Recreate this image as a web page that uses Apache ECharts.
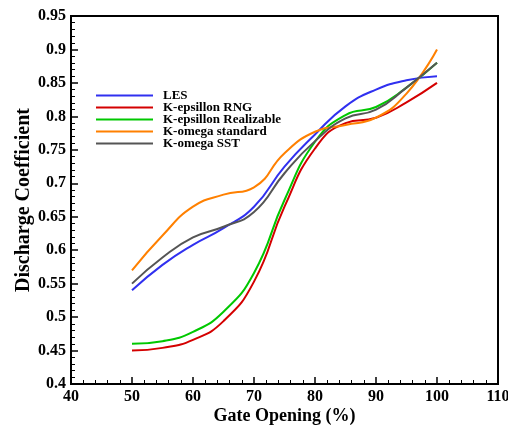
<!DOCTYPE html>
<html>
<head>
<meta charset="utf-8">
<script src="https://cdn.jsdelivr.net/npm/echarts@6/dist/echarts.min.js"></script>
<style>
  html, body { margin: 0; padding: 0; background: #fff; }
  #chart { width: 508px; height: 426px; }
</style>
</head>
<body>
<div id="chart"></div>
<script>
// Gate opening (%) sample positions
const gateOpening = [50, 55, 60, 65, 70, 75, 80, 85, 90, 95, 100];

// Discharge coefficient per model
const les          = [0.540, 0.578, 0.608, 0.633, 0.665, 0.725, 0.773, 0.815, 0.840, 0.854, 0.860];
const kEpsRng      = [0.450, 0.454, 0.466, 0.494, 0.553, 0.665, 0.752, 0.790, 0.798, 0.821, 0.850];
const kEpsReal     = [0.460, 0.464, 0.478, 0.508, 0.566, 0.675, 0.762, 0.802, 0.814, 0.843, 0.880];
const kOmegaStd    = [0.570, 0.622, 0.665, 0.683, 0.694, 0.745, 0.777, 0.787, 0.798, 0.834, 0.900];
const kOmegaSst    = [0.550, 0.589, 0.619, 0.635, 0.657, 0.715, 0.763, 0.797, 0.810, 0.843, 0.880];

const seriesNames = ['LES', 'K-epsillon RNG', 'K-epsillon Realizable', 'K-omega standard', 'K-omega SST'];
const seriesColors = ['#3030f0', '#d40000', '#00c800', '#ff8000', '#555555'];
const seriesValues = [les, kEpsRng, kEpsReal, kOmegaStd, kOmegaSst];

const FONT = '"Liberation Serif", "DejaVu Serif", serif';

const chart = echarts.init(document.getElementById('chart'), null, { renderer: 'canvas' });

const series = seriesNames.map((name, i) => ({
  name: name,
  type: 'line',
  smooth: 0.5,
  symbol: 'none',
  data: gateOpening.map((x, j) => [x, seriesValues[i][j]]),
  lineStyle: { color: seriesColors[i], width: 2 },
  itemStyle: { color: seriesColors[i] },
  z: 3
}));

chart.setOption({
  animation: false,
  backgroundColor: '#fff',
  grid: {
    left: 71, right: 10, top: 16, bottom: 42,
    containLabel: false,
    outerBoundsMode: 'none',
    show: true, borderColor: '#000', borderWidth: 2
  },
  legend: {
    orient: 'vertical',
    left: 96, top: 89,
    padding: 0,
    itemWidth: 57, itemHeight: 12, itemGap: -1,
    icon: 'path://M0,5 L57,5 L57,7 L0,7 Z',
    textStyle: {
      fontFamily: FONT, fontWeight: 'bold', fontSize: 13, lineHeight: 12,
      color: '#000', padding: [0, 0, 0, 5]
    },
    data: seriesNames
  },
  xAxis: {
    type: 'value',
    min: 40, max: 110, interval: 10,
    name: 'Gate Opening (%)',
    nameLocation: 'middle',
    nameGap: 23,
    nameMoveOverlap: false,
    nameTextStyle: { fontFamily: FONT, fontWeight: 'bold', fontSize: 18, color: '#000' },
    axisLine: { show: true, onZero: false, lineStyle: { color: '#000', width: 2 } },
    axisTick: { show: true, inside: true, length: 7, lineStyle: { color: '#000', width: 1.5 } },
    minorTick: { show: true, splitNumber: 5, length: 4, lineStyle: { color: '#000', width: 1 } },
    axisLabel: { fontFamily: FONT, fontWeight: 'bold', fontSize: 16, color: '#000', margin: 5 },
    splitLine: { show: false }
  },
  yAxis: {
    type: 'value',
    min: 0.4, max: 0.95, interval: 0.05,
    name: 'Discharge Coefficient',
    nameLocation: 'middle',
    nameGap: 37,
    nameMoveOverlap: false,
    nameTextStyle: { fontFamily: FONT, fontWeight: 'bold', fontSize: 20, color: '#000' },
    axisLine: { show: true, onZero: false, lineStyle: { color: '#000', width: 2 } },
    axisTick: { show: true, inside: true, length: 7, lineStyle: { color: '#000', width: 1.5 } },
    minorTick: { show: true, splitNumber: 5, length: 4, lineStyle: { color: '#000', width: 1 } },
    axisLabel: {
      fontFamily: FONT, fontWeight: 'bold', fontSize: 16, color: '#000', margin: 5,
      formatter: v => String(+v.toFixed(2))
    },
    splitLine: { show: false }
  },
  series: series
});
</script>
</body>
</html>
